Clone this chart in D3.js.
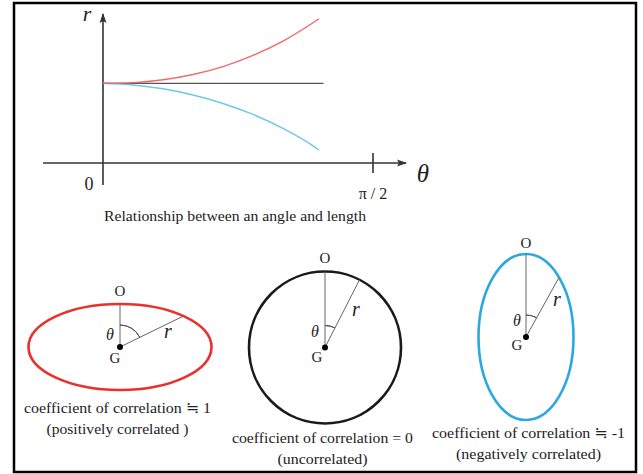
<!DOCTYPE html>
<html lang="en">
<head>
<meta charset="UTF-8">
<title>Relationship between an angle and length</title>
<style>
    body { margin: 0; background: #fff; }
    svg text { fill: #222; }
    .it { font-style: italic; }
</style>
</head>
<body>
<svg id="chart" width="643" height="474" font-family="'Liberation Serif', 'Times New Roman', 'DejaVu Serif', serif"></svg>
<script src="https://d3js.org/d3.v7.min.js"></script>
<script>
// angle theta (degrees) and the length r
const thetaDeg   = [0, 10, 20, 30, 40, 50, 60, 70, 72];
const rPositive  = [1.0, 1.008, 1.044, 1.11, 1.21, 1.35, 1.53, 1.76, 1.81];
const rNegative  = [1.0, 0.979, 0.931, 0.853, 0.747, 0.609, 0.435, 0.215, 0.16];
const rBaseline  = [1.0, 1.0];
const baseTheta  = [0, 73.5];
const xTickLabel = ["π / 2"];

// the three shapes below: name, angle of r from vertical (deg), captions
const shapeNames    = ["positive", "none", "negative"];
const shapeAngles   = [64, 27, 29];
const captionLines1 = ["coefficient of correlation ≒ 1", "coefficient of correlation = 0", "coefficient of correlation ≒ -1"];
const captionLines2 = ["(positively correlated )", "(uncorrelated)", "(negatively correlated)"];

const svg = d3.select("#chart");

// frame
svg.append("rect")
    .attr("x", 14).attr("y", 3)
    .attr("width", 622).attr("height", 469)
    .attr("fill", "none").attr("stroke", "#000").attr("stroke-width", 2.5);

// arrow marker
svg.append("defs").append("marker")
    .attr("id", "arrow")
    .attr("viewBox", "-10 -5 12 10")
    .attr("refX", 0).attr("refY", 0)
    .attr("markerWidth", 12).attr("markerHeight", 10)
    .attr("markerUnits", "userSpaceOnUse")
    .attr("orient", "auto")
    .append("path")
    .attr("d", "M-9,-3.5 L1,0 L-9,3.5 L-7,0 Z")
    .attr("fill", "#333");

// ---- upper plot ----
const x = d3.scaleLinear().domain([0, 90]).range([103, 373]);
const y = d3.scaleLinear().domain([0, 1]).range([163, 83.3]);

const axisColor = "#333";
// theta axis
svg.append("line")
    .attr("x1", 43).attr("x2", 406)
    .attr("y1", y(0)).attr("y2", y(0))
    .attr("stroke", axisColor).attr("stroke-width", 1.6)
    .attr("marker-end", "url(#arrow)");
// r axis
svg.append("line")
    .attr("x1", x(0)).attr("x2", x(0))
    .attr("y1", 185).attr("y2", 14)
    .attr("stroke", axisColor).attr("stroke-width", 1.6)
    .attr("marker-end", "url(#arrow)");
// tick at pi/2
svg.append("line")
    .attr("x1", x(90)).attr("x2", x(90))
    .attr("y1", y(0) - 10).attr("y2", y(0) + 10)
    .attr("stroke", axisColor).attr("stroke-width", 1.6);

svg.append("text").attr("x", x(90)).attr("y", 199)
    .attr("text-anchor", "middle").attr("font-size", 16)
    .text(xTickLabel[0]);
svg.append("text").attr("x", 89).attr("y", 190)
    .attr("text-anchor", "middle").attr("font-size", 18)
    .text("0");
svg.append("text").attr("class", "it").attr("x", 87).attr("y", 21)
    .attr("text-anchor", "middle").attr("font-size", 22)
    .text("r");
svg.append("text").attr("class", "it").attr("x", 423).attr("y", 182)
    .attr("text-anchor", "middle").attr("font-size", 25)
    .text("θ");

const line = d3.line()
    .x(d => x(d[0]))
    .y(d => y(d[1]))
    .curve(d3.curveMonotoneX);

svg.append("path")
    .datum(d3.zip(baseTheta, rBaseline))
    .attr("d", line)
    .attr("fill", "none").attr("stroke", "#555").attr("stroke-width", 1.2);
svg.append("path")
    .datum(d3.zip(thetaDeg, rNegative))
    .attr("d", line)
    .attr("fill", "none").attr("stroke", "#6cc9ea").attr("stroke-width", 1.4);
svg.append("path")
    .datum(d3.zip(thetaDeg, rPositive))
    .attr("d", line)
    .attr("fill", "none").attr("stroke", "#f0686b").attr("stroke-width", 1.4);

svg.append("text").attr("x", 235).attr("y", 221)
    .attr("text-anchor", "middle").attr("font-size", 15)
    .attr("textLength", 262).attr("lengthAdjust", "spacingAndGlyphs")
    .text("Relationship between an angle and length");

// ---- lower shapes ----
const shapes = [
    { cx: 120, cy: 347, rx: 91.5, ry: 43, color: "#e8302c", oy: 296,
      theta: [110, 340], g: [115, 363], r: [168, 338],
      capX: 117.5, capY: 413, capW: 187, capW2: 142 },
    { cx: 325, cy: 347.5, rx: 76, ry: 76, color: "#1a1a1a", oy: 263,
      theta: [315, 337], g: [317, 362], r: [356, 316],
      capX: 322.5, capY: 443, capW: 181, capW2: 90 },
    { cx: 526, cy: 337, rx: 47.5, ry: 83, color: "#2ba8df", oy: 248,
      theta: [517, 326], g: [517, 350], r: [557, 306],
      capX: 528.5, capY: 438, capW: 193, capW2: 145 }
];

shapes.forEach((s, i) => {
    const g = svg.append("g").attr("class", "shape-" + shapeNames[i]);
    const a = shapeAngles[i] * Math.PI / 180;
    // point on ellipse along angle a measured from vertical
    const t = Math.atan2(Math.cos(a) / s.ry, Math.sin(a) / s.rx);
    const ex = s.cx + s.rx * Math.cos(t);
    const ey = s.cy - s.ry * Math.sin(t);

    g.append("ellipse")
        .attr("cx", s.cx).attr("cy", s.cy)
        .attr("rx", s.rx).attr("ry", s.ry)
        .attr("fill", "none").attr("stroke", s.color).attr("stroke-width", 2.6);

    g.append("line")
        .attr("x1", s.cx).attr("y1", s.cy)
        .attr("x2", s.cx).attr("y2", s.cy - s.ry)
        .attr("stroke", "#666").attr("stroke-width", 1);
    g.append("line")
        .attr("x1", s.cx).attr("y1", s.cy)
        .attr("x2", ex).attr("y2", ey)
        .attr("stroke", "#666").attr("stroke-width", 1);

    const arc = d3.arc()
        .innerRadius(22).outerRadius(22)
        .startAngle(0).endAngle(a);
    g.append("path")
        .attr("transform", `translate(${s.cx},${s.cy})`)
        .attr("d", arc())
        .attr("fill", "none").attr("stroke", "#555").attr("stroke-width", 1);

    g.append("circle").attr("cx", s.cx).attr("cy", s.cy).attr("r", 3).attr("fill", "#000");

    g.append("text").attr("x", s.cx).attr("y", s.oy)
        .attr("text-anchor", "middle").attr("font-size", 15).text("O");
    g.append("text").attr("x", s.g[0]).attr("y", s.g[1])
        .attr("text-anchor", "middle").attr("font-size", 15).text("G");
    g.append("text").attr("class", "it").attr("x", s.theta[0]).attr("y", s.theta[1])
        .attr("text-anchor", "middle").attr("font-size", 16).text("θ");
    g.append("text").attr("class", "it").attr("x", s.r[0]).attr("y", s.r[1])
        .attr("text-anchor", "middle").attr("font-size", 20).text("r");

    g.append("text").attr("x", s.capX).attr("y", s.capY)
        .attr("text-anchor", "middle").attr("font-size", 15)
        .attr("textLength", s.capW).attr("lengthAdjust", "spacingAndGlyphs")
        .text(captionLines1[i]);
    g.append("text").attr("x", s.capX).attr("y", s.capY + 21)
        .attr("text-anchor", "middle").attr("font-size", 15)
        .attr("textLength", s.capW2).attr("lengthAdjust", "spacingAndGlyphs")
        .text(captionLines2[i]);
});
</script>
</body>
</html>
